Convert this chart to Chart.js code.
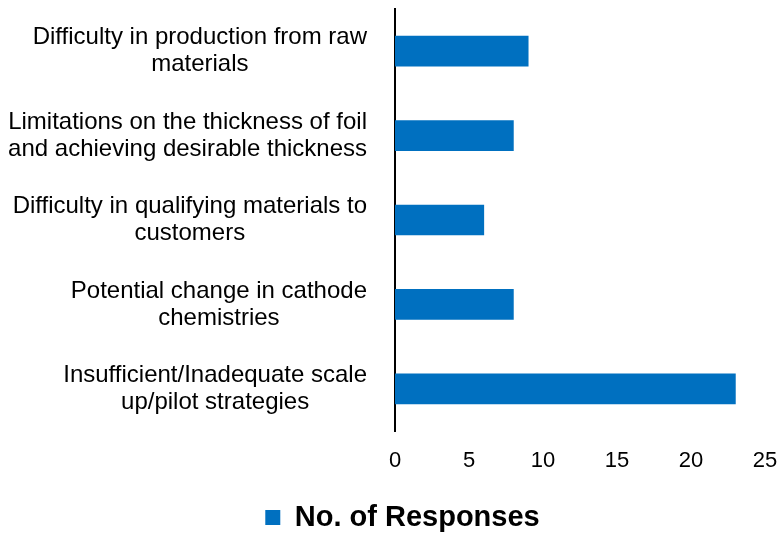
<!DOCTYPE html>
<html>
<head>
<meta charset="utf-8">
<script src="https://cdn.jsdelivr.net/npm/chart.js@4"></script>
<style>
  html, body { margin: 0; padding: 0; background: #ffffff; }
  #wrap { width: 782px; height: 533px; }
</style>
</head>
<body>
<div id="wrap"><canvas id="barChart" width="782" height="533"></canvas></div>
<script>
const categories = [
  ["Difficulty in production from raw", "materials"],
  ["Limitations on the thickness of foil", "and achieving desirable thickness"],
  ["Difficulty in qualifying materials to", "customers"],
  ["Potential change in cathode", "chemistries"],
  ["Insufficient/Inadequate scale", "up/pilot strategies"]
];
const responses = [9, 8, 6, 8, 23];
const seriesName = "No. of Responses";
const xTicks = [0, 5, 10, 15, 20, 25];

const LABEL_FONT = "24px 'Liberation Sans', Arial, sans-serif";
const LABEL_RIGHT = 367;
const LINE_GAP = 27;

// category labels: lines centred on each other, block right-aligned to the axis
const centredLabels = {
  id: "centredLabels",
  afterDraw(chart) {
    const scale = chart.scales.y;
    const ctx = chart.ctx;
    ctx.save();
    ctx.font = LABEL_FONT;
    ctx.fillStyle = "#000000";
    ctx.textAlign = "center";
    ctx.textBaseline = "middle";
    categories.forEach((lines, i) => {
      const y = scale.getPixelForTick(i);
      const maxW = Math.max(...lines.map(l => ctx.measureText(l).width));
      const cx = LABEL_RIGHT - maxW / 2;
      lines.forEach((line, j) => {
        ctx.fillText(line, cx, y + (j - (lines.length - 1) / 2) * LINE_GAP);
      });
    });
    ctx.restore();
  }
};

// nudge the legend right and down, like the original
const legendShift = {
  id: "legendShift",
  afterLayout(chart) {
    if (chart.legend) {
      chart.legend.left += 20;
      chart.legend.right += 20;
      chart.legend.top += 9;
      chart.legend.bottom += 9;
    }
  }
};

new Chart(document.getElementById("barChart"), {
  type: "bar",
  data: {
    labels: categories,
    datasets: [
      {
        label: seriesName,
        data: responses,
        backgroundColor: "#0070C0",
        barThickness: 30
      }
    ]
  },
  options: {
    indexAxis: "y",
    responsive: false,
    animation: false,
    layout: { padding: { top: 9, right: 17, left: 0, bottom: 0 } },
    plugins: {
      tooltip: { enabled: false },
      legend: {
        position: "bottom",
        labels: {
          color: "#000000",
          font: { family: "'Liberation Sans', Arial, sans-serif", size: 29, weight: "bold" },
          boxWidth: 15,
          boxHeight: 15,
          padding: 0
        }
      }
    },
    scales: {
      x: {
        min: 0,
        max: 25,
        afterBuildTicks(scale) {
          scale.ticks = xTicks.map(v => ({ value: v }));
        },
        afterFit(scale) {
          scale.height = 63;
          scale.paddingLeft = 0;
          scale.paddingRight = 0;
        },
        grid: { display: false, drawTicks: false },
        border: { display: false },
        ticks: {
          color: "#000000",
          padding: 17,
          font: { family: "'Liberation Sans', Arial, sans-serif", size: 22 }
        }
      },
      y: {
        afterFit(scale) {
          scale.width = 395;
        },
        grid: { display: false, drawTicks: false },
        border: { display: true, color: "#000000", width: 2 },
        ticks: { display: false }
      }
    }
  },
  plugins: [centredLabels, legendShift]
});
</script>
</body>
</html>
